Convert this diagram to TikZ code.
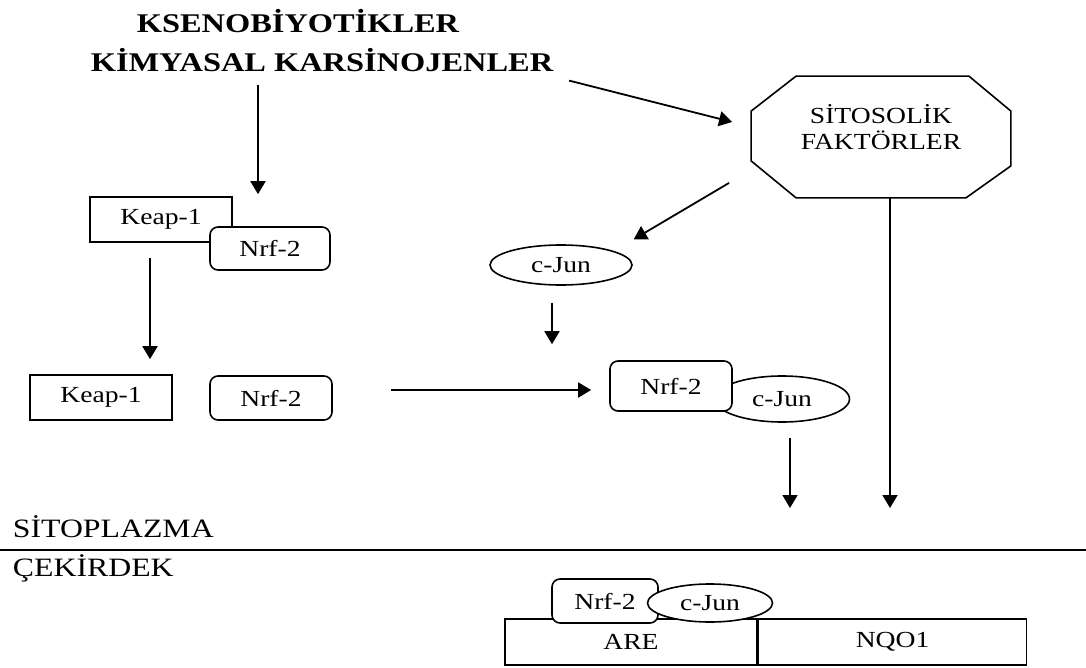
\documentclass[tikz,border=0pt]{standalone}
\usepackage{fontspec}
\setmainfont{Liberation Serif}[FakeStretch=1.2]
\usetikzlibrary{arrows.meta,calc,shapes.geometric}

\newcommand{\boxfont}{\fontsize{23}{26}\selectfont}
\newcommand{\headfont}{\fontsize{27}{31}\selectfont\bfseries}
\newcommand{\zonefont}{\fontsize{26.5}{30}\selectfont}

\tikzset{
  box/.style={draw, line width=1.6pt, fill=white, font=\boxfont, inner sep=0pt},
  rbox/.style={box, rounded corners=8pt},
  oval/.style={box, ellipse},
  head/.style={font=\headfont, inner sep=0pt},
  zone/.style={font=\zonefont, inner sep=0pt, anchor=base west}
}

\begin{document}
\begin{tikzpicture}[x=1pt,y=-1pt,->,line width=1.8pt,>={Triangle[length=13pt,width=15pt]}]
        \useasboundingbox (0,0) rectangle (1086,668);

        % top labels
        \node [head] (kseno) at (298,21) {KSENOBİYOTİKLER};
        \node [head] (kimya) at (322,60) {KİMYASAL KARSİNOJENLER};

        % cytosolic factors
        \node [minimum width=258pt, minimum height=120pt, inner sep=0pt] (sf) at (881,137) {};
        \draw [-, line width=1.6pt] ($(sf.north west)+(45,0)$) -- ($(sf.north east)+(-42,0)$)
          -- ($(sf.north east)+(0,35)$) -- ($(sf.south east)+(0,-32)$)
          -- ($(sf.south east)+(-45,0)$) -- ($(sf.south west)+(45,0)$)
          -- ($(sf.south west)+(0,-37)$) -- ($(sf.north west)+(0,35)$) -- cycle;
        \node [font=\boxfont, align=center, inner sep=0pt] (sftext) at (881,127) {SİTOSOLİK\\FAKTÖRLER};

        % Keap-1 / Nrf-2 complex
        \node [box, minimum width=142pt, minimum height=45pt] (keapA) at (161,219.5) {Keap-1};
        \node [rbox, minimum width=120pt, minimum height=43pt] (nrfA) at (270,248.5) {Nrf-2};

        \node [box, minimum width=142pt, minimum height=45pt] (keapB) at (101,397.5) {Keap-1};
        \node [rbox, minimum width=122pt, minimum height=44pt] (nrfB) at (271,398) {Nrf-2};

        \node [oval, minimum width=142pt, minimum height=40pt] (cjunA) at (561,265) {c-Jun};

        \node [oval, minimum width=135pt, minimum height=46pt] (cjunB) at (782,399) {c-Jun};
        \node [rbox, minimum width=122pt, minimum height=50pt] (nrfC) at (671,386) {Nrf-2};

        % membrane
        \coordinate (ml) at (0,550);
        \coordinate (mr) at (1086,550);
        \draw [-, line width=1.4pt] (ml) -- (mr);
        \node [zone] (sito) at (12,537) {SİTOPLAZMA};
        \node [zone] (cekir) at (12,576) {ÇEKİRDEK};

        % nucleus
        \node [box, minimum width=252pt, minimum height=46pt] (are) at (631,642) {ARE};
        \node [box, minimum width=268pt, minimum height=46pt, anchor=west] (nqo) at (are.east) {NQO1};
        \node [rbox, minimum width=106pt, minimum height=44pt] (nrfD) at (605,601) {Nrf-2};
        \node [oval, minimum width=125pt, minimum height=38pt] (cjunD) at (710,603) {c-Jun};

        % arrows
        \coordinate (k1) at (258,85);
        \draw (k1) -- ($(k1 |- keapA.north)+(0,-2)$);
        \draw ($(kimya.south east)+(15,8)$) -- ($(sf.west)+(-19,-15)$);
        \draw ($(sf.south west)+(-22,-15)$) -- ($(cjunA.north east)+(22,-11)$);
        \draw ($(keapA.south)+(-11,15)$) -- ($(keapB.north)+(49,-15)$);
        \draw ($(nrfB.east)+(58,-8)$) -- ($(nrfC.west)+(-18,4)$);
        \draw ($(cjunA.south)+(-9,17)$) -- ($(nrfC.north)+(-119,-16)$);
        \draw ($(cjunB.south)+(8,15)$) -- ($(cjunB.south |- ml)+(8,-42)$);
        \draw ($(sf.south)+(9,0)$) -- ($(sf.south |- ml)+(9,-42)$);
      \end{tikzpicture}
\end{document}
